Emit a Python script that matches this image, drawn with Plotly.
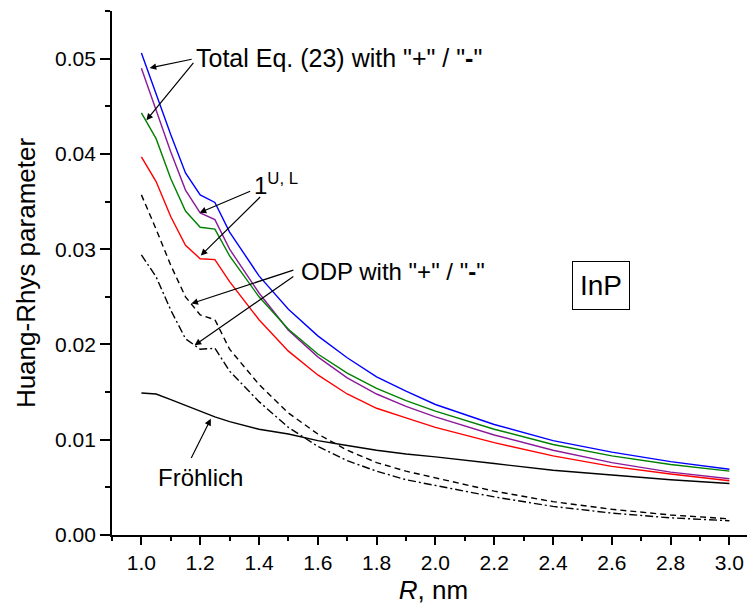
import plotly.graph_objects as go

R = [1.0, 1.05, 1.1, 1.15, 1.2, 1.25, 1.3, 1.4, 1.5, 1.6, 1.7, 1.8, 1.9, 2.0, 2.2, 2.4, 2.6, 2.8, 3.0]

total_plus_blue = [0.0506, 0.0462, 0.0420, 0.0380, 0.0357, 0.0349, 0.0318, 0.0272, 0.0237, 0.0209, 0.0186, 0.0166,
                   0.0151, 0.0137, 0.0116, 0.0099, 0.0087, 0.0077, 0.0069]
total_minus_purple = [0.0490, 0.0445, 0.0402, 0.0362, 0.0338, 0.0331, 0.0300, 0.0254, 0.0215, 0.0187, 0.0165, 0.0148,
                      0.0135, 0.0124, 0.0105, 0.0089, 0.0076, 0.0066, 0.0059]
total_green = [0.0443, 0.0416, 0.0374, 0.0340, 0.0323, 0.0321, 0.0293, 0.0250, 0.0216, 0.0190, 0.0170, 0.0154,
               0.0141, 0.0130, 0.0111, 0.0095, 0.0083, 0.0074, 0.0067]
total_red = [0.0397, 0.0371, 0.0334, 0.0304, 0.0290, 0.0289, 0.0266, 0.0226, 0.0193, 0.0168, 0.0148, 0.0133,
             0.0123, 0.0113, 0.0097, 0.0083, 0.0072, 0.0064, 0.0057]
odp_plus = [0.0357, 0.0321, 0.0283, 0.0250, 0.0231, 0.0226, 0.0195, 0.0158, 0.0128, 0.0106, 0.0089, 0.0076,
            0.0067, 0.0060, 0.0046, 0.0035, 0.0027, 0.0021, 0.0017]
odp_minus = [0.0294, 0.0271, 0.0236, 0.0206, 0.0195, 0.0196, 0.0172, 0.0140, 0.0113, 0.0093, 0.0078, 0.0067,
             0.0058, 0.0052, 0.0040, 0.0030, 0.0023, 0.0018, 0.0015]
frohlich = [0.0149, 0.0148, 0.0142, 0.0136, 0.0130, 0.0124, 0.0119, 0.0111, 0.0106, 0.0099, 0.0094, 0.0089,
            0.0085, 0.0082, 0.0075, 0.0068, 0.0063, 0.0058, 0.0054]

x_ticks = [1.0, 1.2, 1.4, 1.6, 1.8, 2.0, 2.2, 2.4, 2.6, 2.8, 3.0]
y_ticks = [0.00, 0.01, 0.02, 0.03, 0.04, 0.05]

FONT = "Arial, Liberation Sans, sans-serif"

fig = go.Figure()
series = [
    (total_plus_blue, "#0000FF", "solid"),
    (total_minus_purple, "#8B1A9B", "solid"),
    (total_green, "#008000", "solid"),
    (total_red, "#FF0000", "solid"),
    (frohlich, "#000000", "solid"),
    (odp_plus, "#000000", "6px,4px"),
    (odp_minus, "#000000", "8px,3px,2px,3px"),
]
for ys, col, dash in series:
    fig.add_trace(go.Scatter(x=R, y=ys, mode="lines",
                             line=dict(color=col, width=1.4, dash=dash),
                             showlegend=False, hoverinfo="skip"))

def arrow(tx, ty, hx, hy):
    fig.add_annotation(x=hx, y=hy, ax=tx, ay=ty, xref="x", yref="y", axref="x", ayref="y",
                       text="", showarrow=True, arrowhead=2, arrowsize=1.1, arrowwidth=1.2,
                       arrowcolor="black", standoff=0, startstandoff=0)

# Total Eq. (23)
arrow(1.176, 0.04997, 1.028, 0.04902)
arrow(1.181, 0.04972, 1.017, 0.04353)
# 1^{U,L}
arrow(1.375, 0.03615, 1.198, 0.03383)
arrow(1.409, 0.03563, 1.202, 0.02933)
# ODP
arrow(1.522, 0.02786, 1.170, 0.02429)
arrow(1.522, 0.02723, 1.181, 0.01992)
# Frohlich
arrow(1.167, 0.00792, 1.236, 0.01219)

def label(x, y, text, size=24, **kw):
    fig.add_annotation(x=x, y=y, xref="x", yref="y", text=text, showarrow=False,
                       xanchor="left", yanchor="middle", font=dict(family=FONT, size=size, color="black"), **kw)

label(1.180, 0.0501, 'Total Eq. (23) with "+" / "<b>-</b>"', size=25)
label(1.375, 0.0368, '1<sup>U, L</sup>')
label(1.536, 0.02765, 'ODP with "+" / "<b>-</b>"')
label(1.050, 0.00604, 'Fröhlich')

fig.add_annotation(x=2.562, y=0.02618, xref="x", yref="y", text="InP", showarrow=False,
                   xanchor="center", yanchor="middle", font=dict(family=FONT, size=28, color="black"),
                   bordercolor="black", borderwidth=1, borderpad=1, width=54, height=45)

# page body has an 8px default margin; compensate so the plot area lands where the reference has it
fig.update_layout(
    width=747, height=604,
    margin=dict(l=104, r=0, t=3, b=77),
    paper_bgcolor="white", plot_bgcolor="white",
    font=dict(family=FONT, color="black"),
)
fig.update_xaxes(
    range=[0.9, 3.087], tickmode="array", tickvals=x_ticks, ticktext=[f"{v:.1f}" for v in x_ticks],
    ticks="outside", ticklen=8, tickwidth=1.5, tickcolor="black",
    minor=dict(dtick=0.1, tick0=0.9, ticks="outside", ticklen=4, tickwidth=1.5, tickcolor="black"),
    showline=True, linecolor="black", linewidth=1.8, showgrid=False, zeroline=False,
    tickfont=dict(family=FONT, size=21), automargin=False,
    title=dict(text="<i>R</i>, nm", font=dict(family=FONT, size=26), standoff=8),
)
fig.update_yaxes(
    range=[0, 0.055], tickmode="array", tickvals=y_ticks, ticktext=[f"{v:.2f}" for v in y_ticks],
    ticks="outside", ticklen=10, tickwidth=1.5, tickcolor="black",
    minor=dict(dtick=0.005, tick0=0, ticks="outside", ticklen=5, tickwidth=1.5, tickcolor="black"),
    showline=True, linecolor="black", linewidth=1.8, showgrid=False, zeroline=False,
    tickfont=dict(family=FONT, size=21), automargin=False,
    title=dict(text="Huang-Rhys parameter", font=dict(family=FONT, size=26), standoff=12),
)

fig.write_html("out.html")
